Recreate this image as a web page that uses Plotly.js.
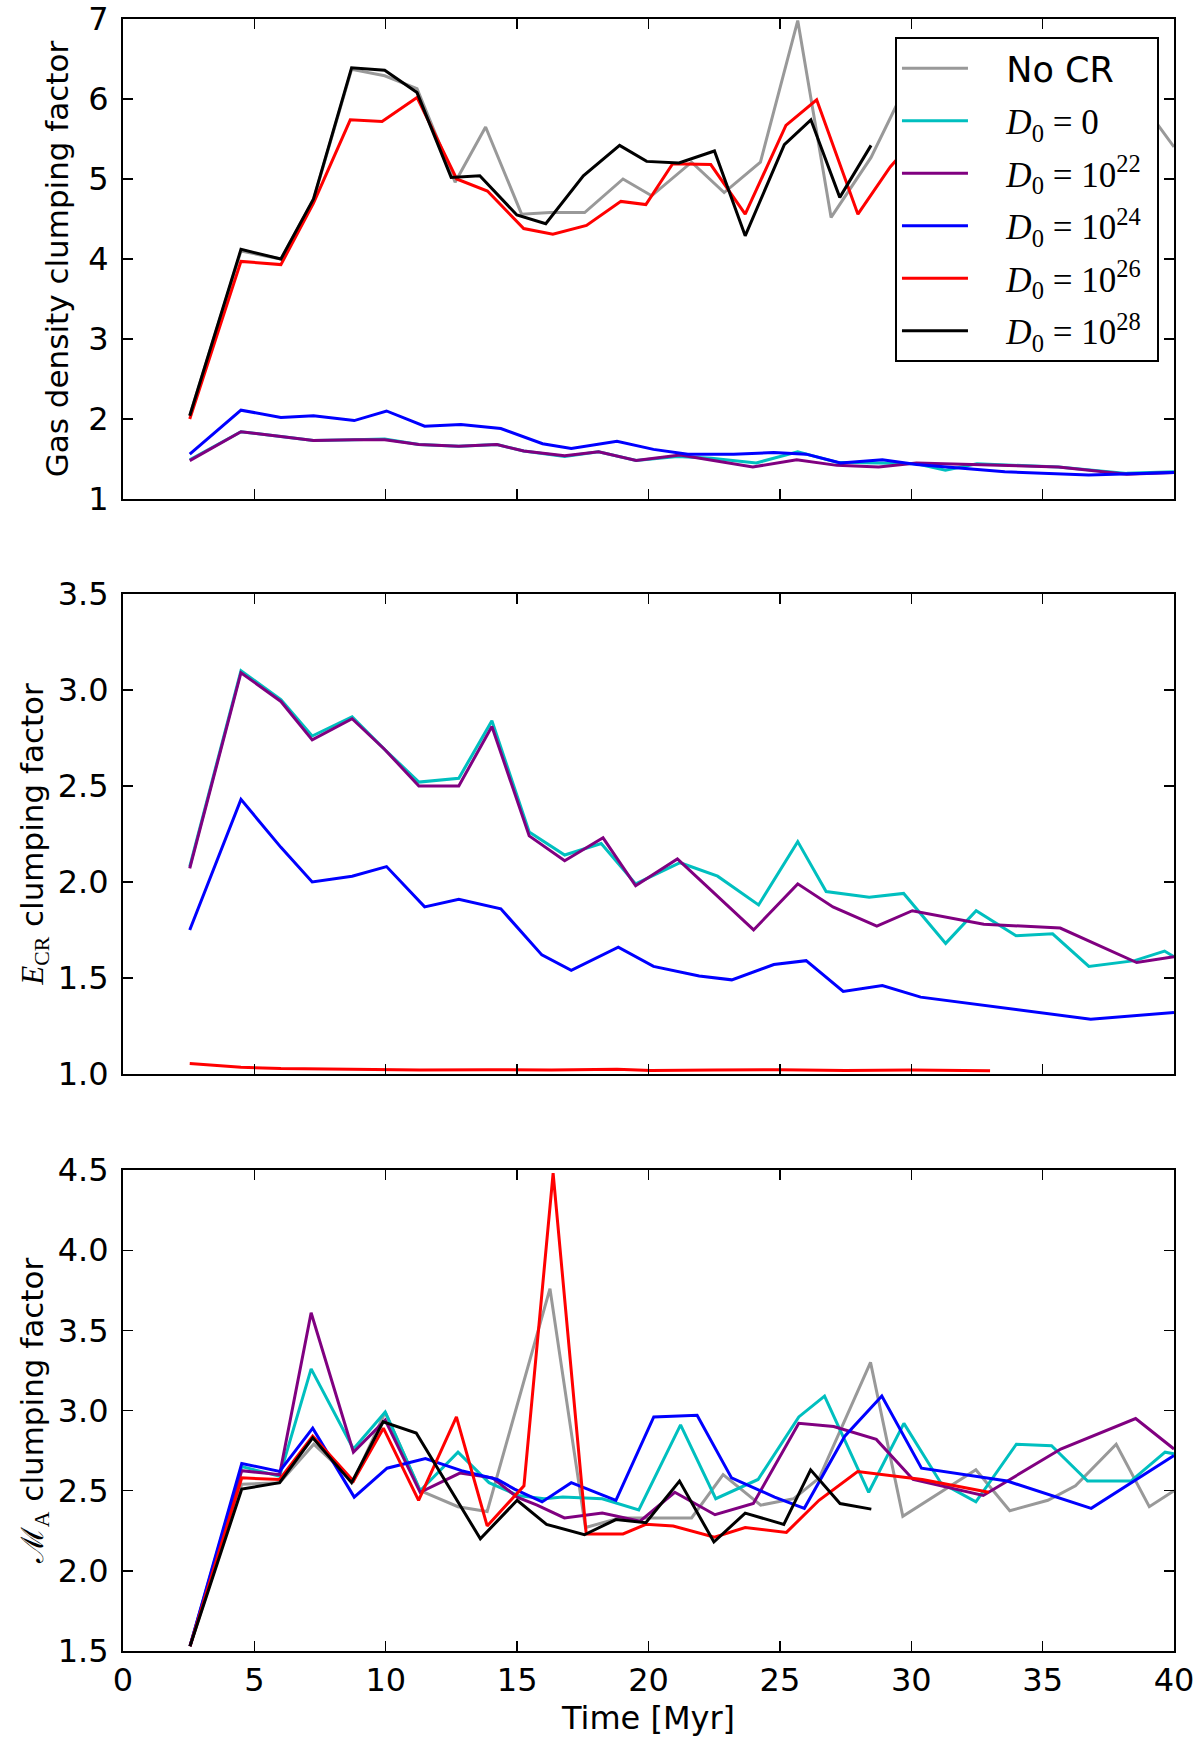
<!DOCTYPE html>
<html>
<head>
<meta charset="utf-8">
<script src="https://cdn.plot.ly/plotly-3.0.1.min.js"></script>
<style>html,body{margin:0;padding:0;background:#fff;}</style>
</head>
<body>
<div id="chart" style="width:1200px;height:1747px;"></div>
<script>
// ---------- series meta ----------
const seriesNames = ['No CR', 'D0=0', 'D0=1e22', 'D0=1e24', 'D0=1e26', 'D0=1e28'];
const seriesColors = ['#999999', '#00BFBF', '#800080', '#0000FF', '#FF0000', '#000000'];
const serif = 'font-family:Liberation Serif, DejaVu Serif, serif';
const pad = '\u00A0\u00A0\u00A0';
const legendLabels = [
  pad + 'No CR\u00A0',
  pad + '<span style="' + serif + '"><i>D</i><sub>0</sub> = 0</span>\u00A0',
  pad + '<span style="' + serif + '"><i>D</i><sub>0</sub> = 10<sup>22</sup></span>\u00A0',
  pad + '<span style="' + serif + '"><i>D</i><sub>0</sub> = 10<sup>24</sup></span>\u00A0',
  pad + '<span style="' + serif + '"><i>D</i><sub>0</sub> = 10<sup>26</sup></span>\u00A0',
  pad + '<span style="' + serif + '"><i>D</i><sub>0</sub> = 10<sup>28</sup></span>\u00A0'
];

// ---------- panel 1: gas density clumping factor ----------
const gasT_noCR = [2.54, 4.49, 6.01, 7.25, 8.70, 9.96, 11.19, 12.64, 13.8, 15.17, 16.26, 17.57, 19.03, 20.12, 21.64, 22.88, 24.26, 25.68, 26.95, 28.47, 30.0, 39.4, 40.0];
const gas_noCR  = [2.04, 4.10, 4.00, 4.74, 6.37, 6.29, 6.13, 4.96, 5.65, 4.56, 4.58, 4.58, 5.00, 4.79, 5.21, 4.83, 5.21, 6.98, 4.52, 5.27, 6.30, 5.67, 5.40];
const gasT_d0   = [2.54, 4.49, 6.01, 7.25, 8.8, 9.96, 11.26, 12.78, 14.23, 15.25, 16.81, 18.1, 19.53, 21.1, 22.4, 24.1, 25.68, 27.17, 28.76, 30.2, 31.3, 32.5, 35.6, 38.2, 40.0];
const gas_d0    = [1.49, 1.84, 1.78, 1.73, 1.74, 1.75, 1.68, 1.66, 1.68, 1.60, 1.53, 1.59, 1.48, 1.53, 1.51, 1.45, 1.59, 1.46, 1.45, 1.44, 1.36, 1.44, 1.40, 1.32, 1.34];
const gasT_d22  = [2.54, 4.49, 6.01, 7.25, 8.8, 9.96, 11.26, 12.78, 14.23, 15.25, 16.81, 18.1, 19.53, 21.2, 23.97, 25.64, 27.17, 28.76, 30.2, 35.6, 38.2, 40.0];
const gas_d22   = [1.48, 1.84, 1.78, 1.73, 1.74, 1.74, 1.68, 1.66, 1.68, 1.60, 1.54, 1.59, 1.48, 1.55, 1.40, 1.49, 1.42, 1.40, 1.45, 1.40, 1.31, 1.33];
const gasT_d24  = [2.54, 4.49, 6.01, 7.25, 8.8, 10.03, 11.48, 12.86, 14.38, 15.97, 17.06, 18.8, 20.19, 21.5, 23.24, 24.77, 26.0, 27.31, 28.9, 30.2, 33.56, 36.75, 40.0];
const gas_d24   = [1.56, 2.11, 2.02, 2.04, 1.98, 2.10, 1.91, 1.93, 1.88, 1.69, 1.63, 1.72, 1.62, 1.56, 1.56, 1.58, 1.56, 1.45, 1.49, 1.43, 1.34, 1.30, 1.33];
const gasT_d26  = [2.54, 4.49, 6.01, 7.25, 8.65, 9.86, 11.19, 12.7, 13.87, 15.25, 16.36, 17.64, 18.95, 19.9, 20.92, 22.37, 23.68, 25.23, 26.4, 27.97, 29.2, 30.4, 33.0];
const gas_d26   = [2.00, 3.97, 3.93, 4.70, 5.74, 5.72, 6.02, 5.00, 4.85, 4.38, 4.31, 4.42, 4.72, 4.68, 5.19, 5.18, 4.56, 5.67, 5.99, 4.56, 5.15, 5.60, 5.30];
const gasT_d28  = [2.54, 4.49, 6.01, 7.25, 8.70, 9.96, 11.19, 12.49, 13.58, 14.99, 16.09, 17.52, 18.9, 19.93, 21.16, 22.51, 23.68, 25.17, 26.18, 27.28, 28.47];
const gas_d28   = [2.04, 4.12, 4.00, 4.75, 6.39, 6.36, 6.08, 5.02, 5.04, 4.55, 4.44, 5.04, 5.42, 5.22, 5.20, 5.35, 4.29, 5.43, 5.74, 4.77, 5.42];

// ---------- panel 2: E_CR clumping factor ----------
const ecrT_d0   = [2.54, 4.49, 6.01, 7.2, 8.72, 9.96, 11.26, 12.78, 14.04, 15.46, 16.81, 18.2, 19.51, 21.2, 22.63, 24.19, 25.68, 26.76, 28.4, 29.71, 31.31, 32.47, 33.99, 35.38, 36.76, 38.5, 39.64, 40.0];
const ecr_d0    = [2.08, 3.10, 2.95, 2.76, 2.86, 2.69, 2.52, 2.54, 2.84, 2.26, 2.14, 2.20, 1.99, 2.10, 2.03, 1.88, 2.21, 1.95, 1.92, 1.94, 1.68, 1.85, 1.72, 1.73, 1.56, 1.59, 1.64, 1.61];
const ecrT_d22  = [2.54, 4.49, 6.01, 7.2, 8.72, 9.96, 11.26, 12.78, 14.04, 15.46, 16.81, 18.27, 19.51, 21.1, 24.0, 25.68, 27.02, 28.69, 30.04, 32.76, 35.67, 38.58, 40.0];
const ecr_d22   = [2.07, 3.09, 2.94, 2.74, 2.85, 2.69, 2.50, 2.50, 2.81, 2.24, 2.11, 2.23, 1.98, 2.12, 1.75, 1.99, 1.87, 1.77, 1.85, 1.78, 1.76, 1.58, 1.61];
const ecrT_d24  = [2.54, 4.49, 6.01, 7.2, 8.72, 10.03, 11.48, 12.78, 14.38, 15.94, 17.06, 18.85, 20.19, 21.93, 23.17, 24.77, 26.0, 27.41, 28.9, 30.36, 36.83, 40.0];
const ecr_d24   = [1.75, 2.43, 2.18, 2.00, 2.03, 2.08, 1.87, 1.91, 1.86, 1.62, 1.54, 1.66, 1.56, 1.51, 1.49, 1.57, 1.59, 1.43, 1.46, 1.40, 1.285, 1.32];
const ecrT_d26  = [2.54, 4.49, 6.01, 8.8, 11.3, 13.9, 16.3, 18.8, 20.1, 22.5, 25.0, 27.5, 30.0, 33.0];
const ecr_d26   = [1.054, 1.035, 1.028, 1.024, 1.020, 1.022, 1.020, 1.024, 1.018, 1.020, 1.022, 1.018, 1.020, 1.016];

// ---------- panel 3: M_A clumping factor ----------
const maT_noCR = [2.55, 4.52, 5.96, 7.26, 8.77, 9.98, 11.31, 12.75, 13.86, 15.04, 16.25, 17.6, 18.9, 19.63, 21.64, 22.84, 24.27, 25.53, 26.5, 28.45, 29.68, 32.46, 33.75, 35.2, 36.25, 37.8, 39.06, 40.0];
const ma_noCR  = [1.53, 2.54, 2.55, 2.79, 2.56, 2.99, 2.50, 2.40, 2.37, 3.05, 3.76, 2.27, 2.33, 2.33, 2.33, 2.60, 2.41, 2.45, 2.58, 3.30, 2.34, 2.63, 2.375, 2.44, 2.53, 2.79, 2.40, 2.50];
const maT_d0   = [2.55, 4.52, 5.96, 7.16, 8.77, 9.98, 11.31, 12.75, 13.93, 15.04, 16.02, 16.74, 18.24, 19.63, 21.22, 22.56, 24.17, 25.72, 26.7, 28.38, 29.72, 31.12, 32.46, 34.0, 35.34, 36.71, 38.36, 39.66, 40.0];
const ma_d0    = [1.53, 2.65, 2.59, 3.26, 2.76, 2.99, 2.50, 2.74, 2.55, 2.47, 2.45, 2.46, 2.45, 2.38, 2.91, 2.45, 2.57, 2.96, 3.09, 2.49, 2.92, 2.55, 2.43, 2.79, 2.78, 2.56, 2.56, 2.74, 2.73];
const maT_d22  = [2.55, 4.52, 5.96, 7.16, 8.77, 9.98, 11.31, 12.82, 14.06, 15.0, 15.76, 16.8, 18.24, 19.68, 21.0, 22.53, 23.99, 25.72, 27.05, 28.67, 30.07, 32.74, 35.69, 38.54, 40.0];
const ma_d22   = [1.53, 2.625, 2.60, 3.61, 2.74, 2.94, 2.49, 2.61, 2.58, 2.46, 2.41, 2.33, 2.36, 2.31, 2.49, 2.35, 2.42, 2.92, 2.90, 2.82, 2.57, 2.47, 2.76, 2.95, 2.76];
const maT_d24  = [2.55, 4.52, 5.96, 7.22, 8.8, 10.05, 11.51, 12.88, 14.25, 14.9, 15.95, 17.06, 18.76, 20.2, 21.85, 23.16, 24.8, 25.93, 27.47, 28.88, 30.39, 33.65, 36.85, 40.0];
const ma_d24   = [1.53, 2.67, 2.62, 2.89, 2.46, 2.64, 2.70, 2.625, 2.57, 2.51, 2.43, 2.55, 2.44, 2.96, 2.97, 2.58, 2.46, 2.39, 2.84, 3.09, 2.64, 2.56, 2.39, 2.72];
const maT_d26  = [2.55, 4.52, 5.96, 7.22, 8.77, 9.91, 11.25, 12.69, 13.86, 15.26, 16.37, 17.63, 19.03, 19.9, 20.94, 22.51, 23.68, 25.25, 26.49, 27.96, 30.42, 32.95];
const ma_d26   = [1.53, 2.58, 2.57, 2.84, 2.56, 2.89, 2.44, 2.96, 2.28, 2.53, 4.48, 2.23, 2.23, 2.29, 2.28, 2.21, 2.27, 2.24, 2.44, 2.62, 2.57, 2.49];
const maT_d28  = [2.55, 4.52, 5.96, 7.22, 8.7, 9.9, 11.16, 13.6, 15.0, 16.12, 17.56, 18.76, 19.9, 21.18, 22.49, 23.68, 25.15, 26.17, 27.29, 28.48];
const ma_d28   = [1.53, 2.51, 2.55, 2.83, 2.55, 2.93, 2.86, 2.20, 2.44, 2.29, 2.225, 2.32, 2.30, 2.56, 2.18, 2.36, 2.29, 2.63, 2.42, 2.385];

// ---------- axis tick labels / titles ----------
const xTickVals = [0, 5, 10, 15, 20, 25, 30, 35, 40];
const gasTicks = [1, 2, 3, 4, 5, 6, 7];
const ecrTicks = [1.0, 1.5, 2.0, 2.5, 3.0, 3.5];
const maTicks = [1.5, 2.0, 2.5, 3.0, 3.5, 4.0, 4.5];
const xTitle = 'Time [Myr]';
const gasTitle = 'Gas density clumping factor';
const ecrTitle = '<span style="' + serif + '"><i>E</i><sub>CR</sub></span> clumping factor';
const maTitle = '<span style="' + serif + '">ℳ<sub>A</sub></span> clumping factor';

// ---------- build traces ----------
const traces = [];
function add(x, y, idx, xa, ya, legend) {
  traces.push({
    type: 'scatter', mode: 'lines', x: x, y: y,
    xaxis: xa, yaxis: ya,
    name: legendLabels[idx], legendgroup: seriesNames[idx], showlegend: legend,
    line: {color: seriesColors[idx], width: 3},
    hoverinfo: 'skip'
  });
}
// panel 1 (top)
add(gasT_noCR, gas_noCR, 0, 'x', 'y', true);
add(gasT_d0, gas_d0, 1, 'x', 'y', true);
add(gasT_d22, gas_d22, 2, 'x', 'y', true);
add(gasT_d24, gas_d24, 3, 'x', 'y', true);
add(gasT_d26, gas_d26, 4, 'x', 'y', true);
add(gasT_d28, gas_d28, 5, 'x', 'y', true);
// panel 2 (middle)
add(ecrT_d0, ecr_d0, 1, 'x2', 'y2', false);
add(ecrT_d22, ecr_d22, 2, 'x2', 'y2', false);
add(ecrT_d24, ecr_d24, 3, 'x2', 'y2', false);
add(ecrT_d26, ecr_d26, 4, 'x2', 'y2', false);
// panel 3 (bottom)
add(maT_noCR, ma_noCR, 0, 'x3', 'y3', false);
add(maT_d0, ma_d0, 1, 'x3', 'y3', false);
add(maT_d22, ma_d22, 2, 'x3', 'y3', false);
add(maT_d24, ma_d24, 3, 'x3', 'y3', false);
add(maT_d26, ma_d26, 4, 'x3', 'y3', false);
add(maT_d28, ma_d28, 5, 'x3', 'y3', false);

const font = {family: 'DejaVu Sans, sans-serif', size: 32, color: '#000'};
function xAxis(anchor, showLabels) {
  const ax = {
    anchor: anchor, domain: [0, 1], range: [0, 40],
    tickvals: xTickVals, ticktext: xTickVals.map(String),
    showticklabels: showLabels, ticks: 'inside', ticklen: 10, tickwidth: 1.4, tickcolor: '#000',
    showline: true, linewidth: 2, linecolor: '#000', mirror: 'ticks',
    showgrid: false, zeroline: false, tickfont: font
  };
  if (showLabels) ax.title = {text: xTitle, font: {family: font.family, size: 32}, standoff: 8};
  return ax;
}
function yAxis(anchor, domain, range, ticks, fmt, title, standoff) {
  return {
    anchor: anchor, domain: domain, range: range,
    tickvals: ticks, ticktext: ticks.map(v => v.toFixed(fmt)),
    ticks: 'inside', ticklen: 10, tickwidth: 1.4, tickcolor: '#000',
    showline: true, linewidth: 2, linecolor: '#000', mirror: 'ticks',
    showgrid: false, zeroline: false, tickfont: font, ticklabelstandoff: 6,
    title: {text: title, font: {family: font.family, size: 31}, standoff: standoff}
  };
}

const layout = {
  width: 1200, height: 1747,
  margin: {l: 123, r: 26, t: 19, b: 96},
  paper_bgcolor: '#fff', plot_bgcolor: '#fff',
  font: font,
  showlegend: true,
  legend: {
    x: 0.9857, xanchor: 'right', y: 0.989, yanchor: 'top',
    bgcolor: '#fff', bordercolor: '#000', borderwidth: 2,
    font: {family: 'DejaVu Sans, sans-serif', size: 35, color: '#000'},
    tracegroupgap: 4, itemwidth: 66, traceorder: 'grouped'
  },
  xaxis: xAxis('y', false),
  xaxis2: xAxis('y2', false),
  xaxis3: xAxis('y3', true),
  yaxis: yAxis('x', [0.7059, 1], [1, 7], gasTicks, 0, gasTitle, 10),
  yaxis2: yAxis('x2', [0.3536, 0.6477], [1, 3.5], ecrTicks, 1, ecrTitle, 5),
  yaxis3: yAxis('x3', [0, 0.2947], [1.5, 4.5], maTicks, 1, maTitle, 5)
};

Plotly.newPlot('chart', traces, layout, {staticPlot: true, displayModeBar: false});
</script>
</body>
</html>
